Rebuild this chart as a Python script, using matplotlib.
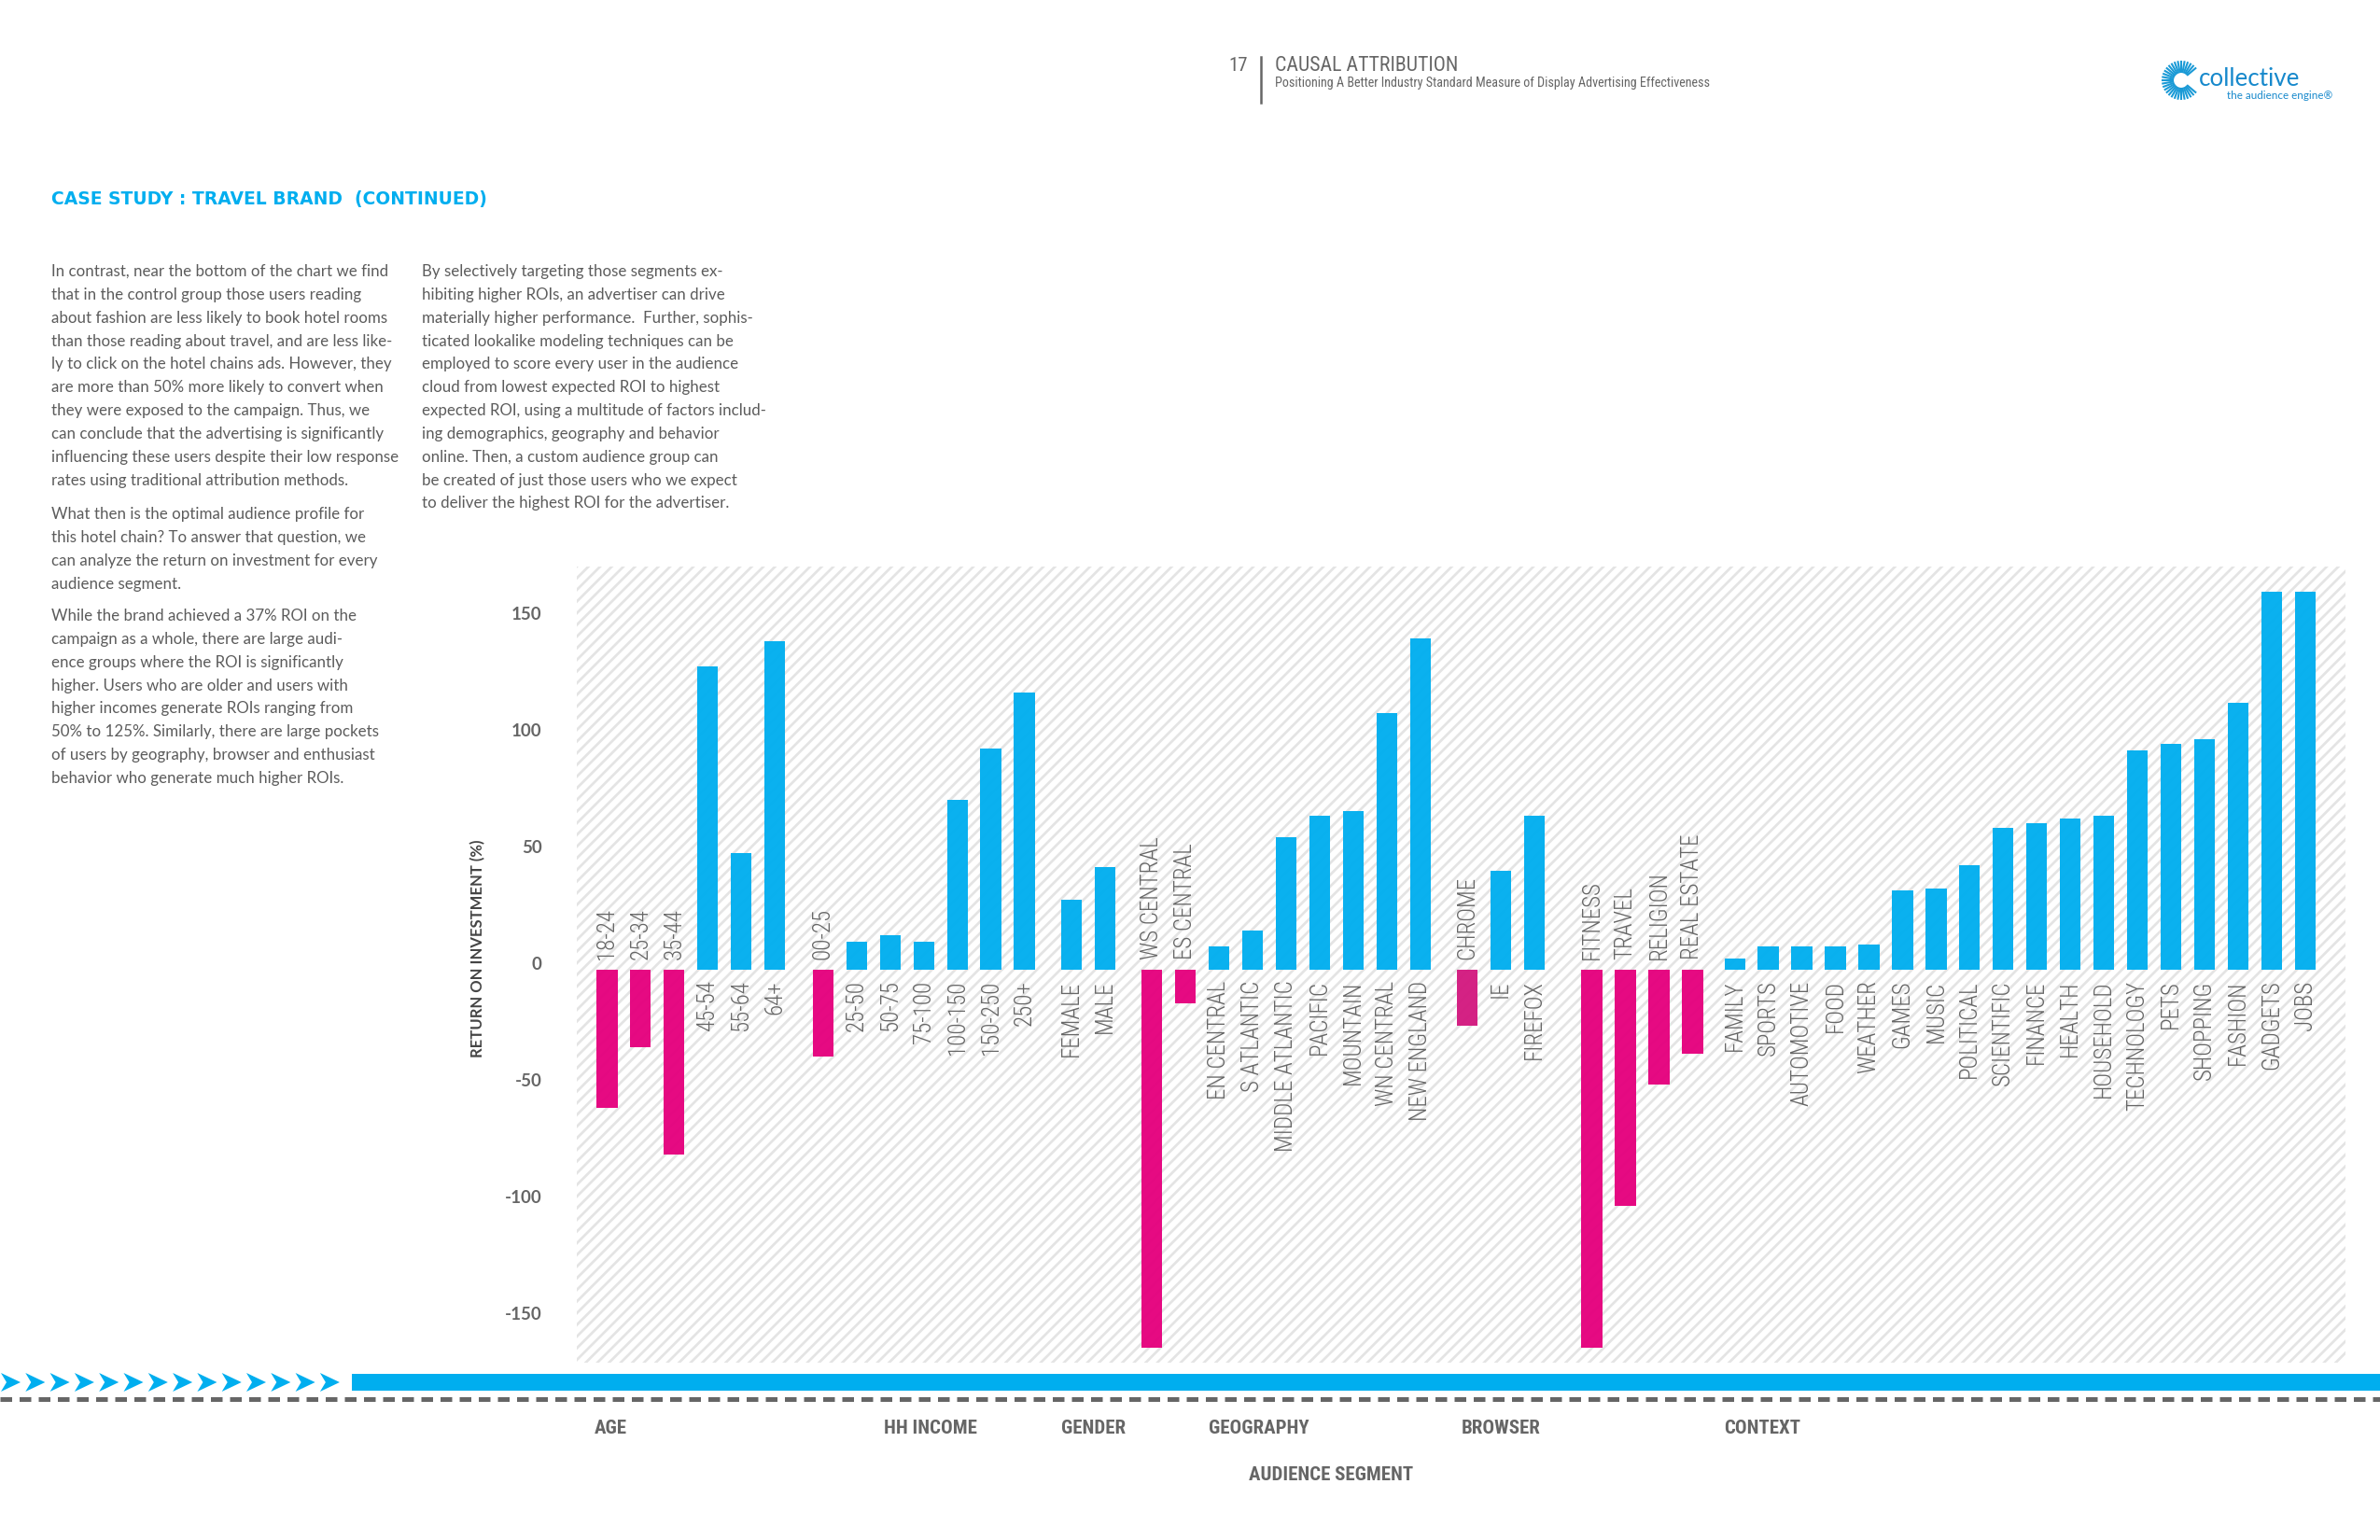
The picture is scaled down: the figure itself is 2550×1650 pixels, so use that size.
import matplotlib
matplotlib.use('Agg')
import matplotlib.pyplot as plt
import matplotlib.transforms as mtransforms
from matplotlib.patches import Rectangle, Polygon
from matplotlib.lines import Line2D
import numpy as np

# ---- data (ROI %) ----
age_labels = ['18-24', '25-34', '35-44', '45-54', '55-64', '64+']
age_roi = [-59, -33, -79, 130, 50, 141]

income_labels = ['00-25', '25-50', '50-75', '75-100', '100-150', '150-250', '250+']
income_roi = [-37, 12, 15, 12, 73, 95, 119]

gender_labels = ['FEMALE', 'MALE']
gender_roi = [30, 44]

geo_labels = ['WS CENTRAL', 'ES CENTRAL', 'EN CENTRAL', 'S ATLANTIC', 'MIDDLE ATLANTIC',
              'PACIFIC', 'MOUNTAIN', 'WN CENTRAL', 'NEW ENGLAND']
geo_roi = [-162, -14.5, 10, 17, 57, 66, 68, 110, 142]

browser_labels = ['CHROME', 'IE', 'FIREFOX']
browser_roi = [-24, 42.5, 66]

context_labels = ['FITNESS', 'TRAVEL', 'RELIGION', 'REAL ESTATE', 'FAMILY', 'SPORTS',
                  'AUTOMOTIVE', 'FOOD', 'WEATHER', 'GAMES', 'MUSIC', 'POLITICAL',
                  'SCIENTIFIC', 'FINANCE', 'HEALTH', 'HOUSEHOLD', 'TECHNOLOGY', 'PETS',
                  'SHOPPING', 'FASHION', 'GADGETS', 'JOBS']
context_roi = [-162, -101, -49, -36, 5, 10, 10, 10, 11, 34, 35, 45, 61, 63, 65, 66,
               94, 97, 99, 114.5, 162, 162]

group_names = ['AGE', 'HH INCOME', 'GENDER', 'GEOGRAPHY', 'BROWSER', 'CONTEXT']
y_ticks = [-150, -100, -50, 0, 50, 100, 150]

BLUE = '#00AEEF'
PINK = '#E5007D'
GREY = '#666666'
TEXT = '#5c5c5c'
NARROW = ['Roboto Condensed', 'Liberation Sans Narrow', 'DejaVu Sans']
BODY = ['Lato', 'DejaVu Sans']

W, H = 2550, 1650


def fx(px):
    return px / W


def fy(py):
    return 1 - py / H


plt.rcParams['hatch.linewidth'] = 1.3
fig = plt.figure(figsize=(17, 11), dpi=150)
fig.patch.set_facecolor('white')

# ---- bar positions: groups separated by small gaps ----
groups = [(age_labels, age_roi), (income_labels, income_roi), (gender_labels, gender_roi),
          (geo_labels, geo_roi), (browser_labels, browser_roi), (context_labels, context_roi)]
gaps_before = [0, 0.44, 0.40, 0.40, 0.40, 0.71]
xs, labels, vals = [], [], []
cur = -1.0
for (labs, rois), g in zip(groups, gaps_before):
    cur += g
    prev = None
    for lab, v in zip(labs, rois):
        if prev is not None and prev < 0 <= v and labs is context_labels:
            cur += 0.26
        cur += 1
        xs.append(cur)
        labels.append(lab)
        vals.append(v)
        prev = v

ax = fig.add_axes([fx(618), fy(1460), fx(2513) - fx(618), fy(607) - fy(1460)])
ax.set_facecolor('white')
ax.add_patch(Rectangle((0, 0), 1, 1, transform=ax.transAxes, facecolor='white',
                       edgecolor='#e4e4e4', hatch='////', linewidth=0, zorder=0))

colors = [BLUE if v >= 0 else PINK for v in vals]
colors[labels.index('CHROME')] = '#D3197F'
ax.bar(xs, vals, width=0.62, color=colors, alpha=0.96, zorder=2, linewidth=0)

for x, lab, v in zip(xs, labels, vals):
    if v >= 0:
        ax.annotate(lab, (x, 0), xytext=(0, -5.5), textcoords='offset points',
                    rotation=90, ha='center', va='top', fontsize=12, color=GREY,
                    family=NARROW, fontstretch='condensed', fontweight='light')
    else:
        ax.annotate(lab, (x, 0), xytext=(0, 5.5), textcoords='offset points',
                    rotation=90, ha='center', va='bottom', fontsize=12, color=GREY,
                    family=NARROW, fontstretch='condensed', fontweight='light')

ax.set_xlim(-0.90, 51.81)
ax.set_ylim(-168.4, 172.8)
ax.set_xticks([])
ax.set_yticks(y_ticks)
ax.set_yticklabels([str(t) for t in y_ticks], fontsize=9, fontweight='bold', color=GREY,
                   family=BODY)
ax.tick_params(axis='y', length=0, pad=18)
shift = mtransforms.ScaledTranslation(0, 7 / 150, fig.dpi_scale_trans)
for t in ax.get_yticklabels():
    t.set_transform(t.get_transform() + shift)
for s in ax.spines.values():
    s.set_visible(False)
ax.set_ylabel('RETURN ON INVESTMENT (%)', fontsize=8, fontweight='bold', color='#444444',
              family=BODY)
ax.yaxis.set_label_coords(fx(520 - 618) / (fx(2513) - fx(618)), 0.52)

# ---- decorative band under the chart ----
fig.add_artist(Rectangle((fx(377), fy(1490)), 1 - fx(377), fy(1472) - fy(1490),
                         transform=fig.transFigure, color=BLUE, linewidth=0))
for i in range(14):
    x0 = 1 + i * 26.3
    pts = [(x0, 1471), (x0 + 21, 1481), (x0, 1491), (x0 + 6, 1481)]
    fig.add_artist(Polygon([(fx(a), fy(b)) for a, b in pts], closed=True,
                           transform=fig.transFigure, color=BLUE, linewidth=0))
fig.add_artist(Line2D([0, 1], [fy(1499), fy(1499)], transform=fig.transFigure,
                      color=GREY, linewidth=2.4, linestyle=(0, (2.5, 1.6))))

group_x = [654, 997, 1172, 1349, 1608, 1888]
for name, gx in zip(group_names, group_x):
    fig.text(fx(gx), fy(1531), name, ha='center', va='center', fontsize=10,
             fontweight='bold', color=GREY, family=NARROW, fontstretch='condensed')
fig.text(fx(1426), fy(1581), 'AUDIENCE SEGMENT', ha='center', va='center', fontsize=10,
         fontweight='bold', color=GREY, family=NARROW, fontstretch='condensed')

# ---- header ----
fig.text(fx(1337), fy(70), '17', ha='right', va='center', fontsize=10, color=GREY,
         family=NARROW, fontstretch='condensed')
fig.add_artist(Line2D([fx(1351), fx(1351)], [fy(61), fy(110)], transform=fig.transFigure,
                      color=GREY, linewidth=1.2))
fig.text(fx(1366), fy(71), 'CAUSAL ATTRIBUTION', ha='left', va='center', fontsize=10.5,
         color=GREY, family=NARROW, fontstretch='condensed')
fig.text(fx(1366), fy(89), 'Positioning A Better Industry Standard Measure of Display '
         'Advertising Effectiveness', ha='left', va='center', fontsize=6.8, color=GREY,
         family=NARROW, fontstretch='condensed')

# logo
cx, cy = 2337, 86
for a in np.linspace(40, 320, 29):
    r = np.deg2rad(a)
    fig.add_artist(Line2D([fx(cx + 9 * np.cos(r)), fx(cx + 20 * np.cos(r))],
                          [fy(cy - 9 * np.sin(r)), fy(cy - 20 * np.sin(r))],
                          transform=fig.transFigure, color='#1A9AD6', linewidth=1.0))
fig.text(fx(2356), fy(84), 'collective', ha='left', va='center', fontsize=12.5,
         color='#1789CC', family=BODY)
fig.text(fx(2386), fy(102), 'the audience engine\u00ae', ha='left', va='center',
         fontsize=5.6, color='#1789CC', family=BODY)

# ---- title and body copy ----
fig.text(fx(55), fy(213), 'CASE STUDY : TRAVEL BRAND  (CONTINUED)', ha='left',
         va='center', fontsize=9, fontweight='bold', color=BLUE,
         family=['DejaVu Sans'])

para1 = ("In contrast, near the bottom of the chart we find\n"
         "that in the control group those users reading\n"
         "about fashion are less likely to book hotel rooms\n"
         "than those reading about travel, and are less like-\n"
         "ly to click on the hotel chains ads. However, they\n"
         "are more than 50% more likely to convert when\n"
         "they were exposed to the campaign. Thus, we\n"
         "can conclude that the advertising is significantly\n"
         "influencing these users despite their low response\n"
         "rates using traditional attribution methods.")
para2 = ("What then is the optimal audience profile for\n"
         "this hotel chain? To answer that question, we\n"
         "can analyze the return on investment for every\n"
         "audience segment.")
para3 = ("While the brand achieved a 37% ROI on the\n"
         "campaign as a whole, there are large audi-\n"
         "ence groups where the ROI is significantly\n"
         "higher. Users who are older and users with\n"
         "higher incomes generate ROIs ranging from\n"
         "50% to 125%. Similarly, there are large pockets\n"
         "of users by geography, browser and enthusiast\n"
         "behavior who generate much higher ROIs.")
para4 = ("By selectively targeting those segments ex-\n"
         "hibiting higher ROIs, an advertiser can drive\n"
         "materially higher performance.  Further, sophis-\n"
         "ticated lookalike modeling techniques can be\n"
         "employed to score every user in the audience\n"
         "cloud from lowest expected ROI to highest\n"
         "expected ROI, using a multitude of factors includ-\n"
         "ing demographics, geography and behavior\n"
         "online. Then, a custom audience group can\n"
         "be created of just those users who we expect\n"
         "to deliver the highest ROI for the advertiser.")

for txt, x, y in [(para1, 55, 283), (para2, 55, 543), (para3, 55, 652), (para4, 452, 283)]:
    fig.text(fx(x), fy(y), txt, ha='left', va='top', fontsize=8.1, color=TEXT,
             linespacing=1.68, family=BODY)

fig.savefig('out.png', dpi=150, facecolor='white')
